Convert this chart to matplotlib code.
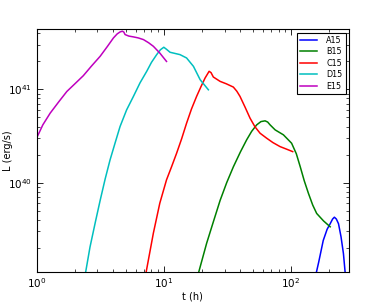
import numpy as np
import matplotlib
matplotlib.use("Agg")
import matplotlib.pyplot as plt

# light curves (t in hours, log10 L in erg/s)
a15_t = [150, 165, 179, 192, 203, 212, 219, 227, 236, 247, 258, 266, 272]
a15_logL = [38.90, 39.15, 39.38, 39.50, 39.56, 39.61, 39.63, 39.61, 39.56, 39.42, 39.24, 39.04, 38.90]

b15_t = [18.0, 18.8, 21.7, 24.5, 27.7, 31.2, 35.2, 40.0, 44.8, 49.0, 53.7, 58.0, 62.5, 65.5,
         68.4, 75.0, 87.1, 101, 110, 118, 127, 137, 148, 159, 180, 203]
b15_logL = [38.95, 39.04, 39.35, 39.58, 39.81, 40.00, 40.17, 40.33, 40.46, 40.55, 40.62, 40.655,
            40.663, 40.650, 40.62, 40.566, 40.513, 40.423, 40.31, 40.172, 40.02, 39.885, 39.76,
            39.67, 39.59, 39.527]

c15_t = [7.0, 7.26, 8.28, 9.3, 10.5, 11.5, 12.6, 13.8, 15.1, 16.5, 18.1, 19.6, 21.1, 22.7, 23.5,
         24.5, 27.7, 31.0, 35.2, 37.5, 39.7, 43.5, 47.6, 52.0, 57.1, 64.3, 72.0, 81.9, 92.0, 103]
c15_logL = [38.95, 39.04, 39.46, 39.78, 40.03, 40.17, 40.315, 40.47, 40.638, 40.79, 40.925, 41.03,
            41.122, 41.194, 41.18, 41.133, 41.086, 41.06, 41.025, 40.98, 40.925, 40.81, 40.692,
            40.60, 40.53, 40.477, 40.43, 40.387, 40.36, 40.333]

d15_t = [2.40, 2.43, 2.63, 2.9, 3.16, 3.46, 3.78, 4.15, 4.53, 5.1, 5.77, 6.5, 7.34, 8.0, 8.79,
         9.4, 10.0, 10.5, 11.2, 12.3, 13.4, 15.1, 17.1, 19.3, 22.4]
d15_logL = [38.95, 39.04, 39.31, 39.58, 39.81, 40.04, 40.244, 40.43, 40.602, 40.78, 40.925,
            41.07, 41.194, 41.29, 41.373, 41.425, 41.452, 41.43, 41.398, 41.385, 41.373, 41.337,
            41.247, 41.104, 40.996]

e15_t = [1.0, 1.12, 1.28, 1.5, 1.73, 2.0, 2.33, 2.7, 3.16, 3.6, 4.02, 4.3, 4.53, 4.72, 4.85,
         4.96, 5.3, 5.77, 6.3, 6.92, 7.6, 8.28, 9.3, 10.5]
e15_logL = [40.477, 40.62, 40.746, 40.87, 40.978, 41.06, 41.147, 41.25, 41.355, 41.46, 41.552,
            41.595, 41.616, 41.624, 41.615, 41.588, 41.572, 41.563, 41.552, 41.534, 41.50, 41.462,
            41.39, 41.30]

series = [
    ("A15", a15_t, a15_logL, "b"),
    ("B15", b15_t, b15_logL, "g"),
    ("C15", c15_t, c15_logL, "r"),
    ("D15", d15_t, d15_logL, "c"),
    ("E15", e15_t, e15_logL, "m"),
]

fig = plt.figure(figsize=(3.89, 3.03), dpi=100, facecolor="white")
ax = fig.add_axes([0.094, 0.102, 0.803, 0.801])

for name, t, logL, col in series:
    ax.plot(t, 10 ** np.asarray(logL), color=col, lw=1.1, label=name)

ax.set_xscale("log")
ax.set_yscale("log")
ax.set_xlim(1, 285)
ax.set_ylim(1.1e39, 4.4e41)
ax.set_xlabel("t (h)", fontsize=7, labelpad=1)
ax.set_ylabel("L (erg/s)", fontsize=7, ha="center", va="center")
ax.yaxis.set_label_coords(-0.093, 0.5)
ax.tick_params(which="both", direction="in", top=True, right=True, labelsize=7.5, pad=3)
ax.tick_params(which="major", length=4, width=0.6)
ax.tick_params(which="minor", length=2, width=0.5)
for s in ax.spines.values():
    s.set_linewidth(0.8)

leg = ax.legend(loc="upper right", fontsize=5.8, fancybox=False, handlelength=2.0,
                framealpha=1, edgecolor="black", borderpad=0.4, labelspacing=0.3,
                handletextpad=1.2, borderaxespad=0.4)
leg.get_frame().set_linewidth(0.8)

fig.savefig("out.png", dpi=100, facecolor="white")
